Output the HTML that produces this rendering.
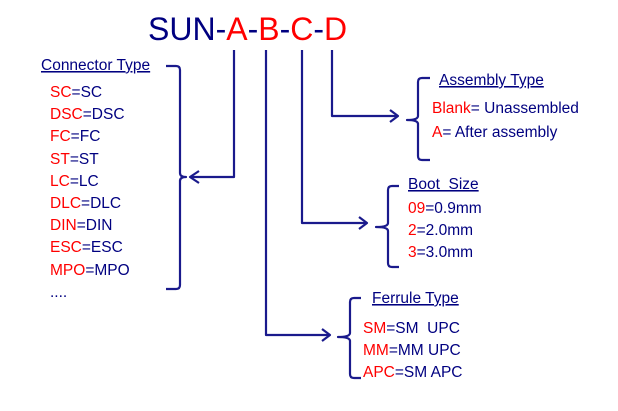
<!DOCTYPE html>
<html><head><meta charset="utf-8"><style>
html,body{margin:0;padding:0;background:#fff;}
svg{display:block;font-family:"Liberation Sans",sans-serif;}
.t{font-size:15.5px;fill:#000080;}
.r{fill:#ff0000;}
</style></head><body>
<svg width="618" height="411" viewBox="0 0 618 411" xmlns="http://www.w3.org/2000/svg">
<text x="148" y="40" font-size="32" fill="#000080">SUN-<tspan fill="#ff0000">A</tspan>-<tspan fill="#ff0000">B</tspan>-<tspan fill="#ff0000">C</tspan>-<tspan fill="#ff0000">D</tspan></text>
<g stroke="#1a1a8c" stroke-width="2.2" fill="none" stroke-linejoin="round">
<path d="M234 50 V177 H190"/>
<path d="M199 171 L190 177 L199 183"/>
<path d="M166 66 H176 Q180 66 180 70 V173 Q180 177 186 177 Q180 177 180 181 V285 Q180 289 176 289 H166"/>
<path d="M332 50 V116 H397"/>
<path d="M390 110 L398 116 L390 122"/>
<path d="M430 78 H422 Q418 78 418 82 V116 Q418 120 407 120 Q418 120 418 124 V156 Q418 160 422 160 H430"/>
<path d="M302 50 V223 H366"/>
<path d="M359 217 L367 223 L359 229"/>
<path d="M399 186 H392 Q388 186 388 190 V223 Q388 227 376 227 Q388 227 388 231 V263 Q388 267 392 267 H399"/>
<path d="M266 50 V335 H329"/>
<path d="M322 329 L330 335 L322 341"/>
<path d="M361 298 H354 Q350 298 350 302 V333 Q350 337 338 337 Q350 337 350 341 V374 Q350 378 354 378 H361"/>
</g>
<g class="t">
<text x="41" y="70" text-decoration="underline">Connector Type</text>
<text x="50" y="97"><tspan class="r">SC</tspan>=SC</text>
<text x="50" y="119"><tspan class="r">DSC</tspan>=DSC</text>
<text x="50" y="141"><tspan class="r">FC</tspan>=FC</text>
<text x="50" y="164"><tspan class="r">ST</tspan>=ST</text>
<text x="50" y="186"><tspan class="r">LC</tspan>=LC</text>
<text x="50" y="208"><tspan class="r">DLC</tspan>=DLC</text>
<text x="50" y="230"><tspan class="r">DIN</tspan>=DIN</text>
<text x="50" y="252"><tspan class="r">ESC</tspan>=ESC</text>
<text x="50" y="275"><tspan class="r">MPO</tspan>=MPO</text>
<text x="50" y="297">....</text>
<text x="439" y="85" text-decoration="underline">Assembly Type</text>
<text x="432" y="113"><tspan class="r">Blank</tspan>= Unassembled</text>
<text x="432" y="137"><tspan class="r">A</tspan>= After assembly</text>
<text x="408" y="189" text-decoration="underline">Boot&#160; Size</text>
<text x="408" y="213"><tspan class="r">09</tspan>=0.9mm</text>
<text x="408" y="235"><tspan class="r">2</tspan>=2.0mm</text>
<text x="408" y="257"><tspan class="r">3</tspan>=3.0mm</text>
<text x="372" y="303" text-decoration="underline">Ferrule Type</text>
<text x="363" y="333"><tspan class="r">SM</tspan>=SM&#160; UPC</text>
<text x="363" y="355"><tspan class="r">MM</tspan>=MM UPC</text>
<text x="363" y="377"><tspan class="r">APC</tspan>=SM APC</text>
</g>
</svg>
</body></html>
